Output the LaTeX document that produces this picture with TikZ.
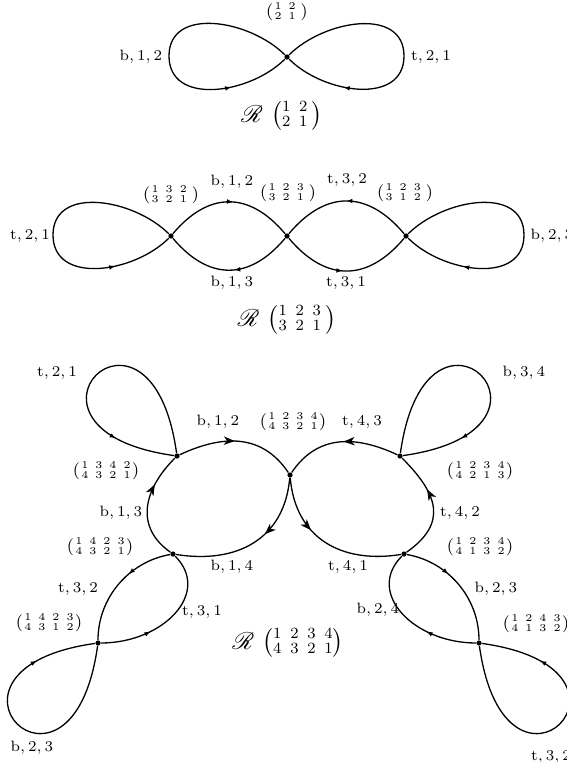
\RequirePackage{fix-cm}
\documentclass[tikz,border=0pt]{standalone}
\usepackage{amsmath}
\usepackage{mathrsfs}
\usetikzlibrary{decorations.markings,arrows.meta}

\newcommand{\vmat}[1]{$(\kern0.7pt\vcenter{\hbox{\fontsize{5.2}{5}\selectfont\setlength{\tabcolsep}{1.75pt}\begin{tabular}{@{}*{4}{c}@{}}#1\end{tabular}}}\kern0.7pt)$}
\newcommand{\bmat}[1]{$\mathscr{R}\,\left(\vcenter{\hbox{\fontsize{7.8}{6.7}\selectfont\setlength{\tabcolsep}{2.2pt}\begin{tabular}{@{}*{4}{c}@{}}#1\end{tabular}}}\right)$}

\tikzset{
  vtx/.style={circle, fill=black, inner sep=0pt, minimum size=2.6pt},
  lb/.style={inner sep=0pt, font=\fontsize{7.5}{9}\selectfont},
  vm/.style={inner sep=0pt, font=\fontsize{8.5}{10}\selectfont},
  rl/.style={inner sep=0pt, font=\fontsize{12}{14}\selectfont},
  crv/.style={line width=0.65pt},
  sa/.style={postaction={decorate}, decoration={markings, mark=at position #1 with {\arrow{Latex[length=3pt,width=2.4pt]}}}},
  ba/.style={postaction={decorate}, decoration={markings, mark=at position #1 with {\arrow{Stealth[length=5.5pt,width=4.2pt,inset=1.6pt]}}}},
}

\begin{document}
\begin{tikzpicture}[x=0.5pt,y=0.5pt]
\useasboundingbox (0,0) rectangle (567,-762);

% ---------- figure 1
\node[vtx] (a) at (287,-57) {};
\coordinate (af1) at (169,-56);
\coordinate (af2) at (404,-56);
\draw[crv,sa=0.785] (a) to[out=135,in=90,looseness=1.1] (af1) to[out=-90,in=-135,looseness=1.1] (a);
\draw[crv,sa=0.78] (a) to[out=45,in=90,looseness=1.1] (af2) to[out=-90,in=-45,looseness=1.1] (a);
\node[vm] (la) at (287,-12) {\vmat{1&2\\2&1}};
\node[lb] (la1) at (141,-57) {$\mathrm{b},1,2$};
\node[lb] (la2) at (431,-57) {$\mathrm{t},2,1$};
\node[rl] (ra) at (282,-116) {\bmat{1&2\\2&1}};

% ---------- figure 2
\node[vtx] (p1) at (171,-236) {};
\node[vtx] (p2) at (287,-236) {};
\node[vtx] (p3) at (406,-236) {};
\coordinate (pf1) at (53,-235);
\coordinate (pf2) at (524,-235);
\draw[crv,sa=0.785] (p1) to[out=135,in=90,looseness=1.1] (pf1) to[out=-90,in=-135,looseness=1.1] (p1);
\draw[crv,sa=0.53] (p1) to[out=50,in=130,looseness=1.27] (p2);
\draw[crv,sa=0.46] (p2) to[out=-130,in=-50,looseness=1.27] (p1);
\draw[crv,sa=0.5] (p3) to[out=130,in=50,looseness=1.27] (p2);
\draw[crv,sa=0.47] (p2) to[out=-50,in=-130,looseness=1.27] (p3);
\draw[crv,sa=0.78] (p3) to[out=45,in=90,looseness=1.1] (pf2) to[out=-90,in=-45,looseness=1.1] (p3);
\node[lb] (lp1) at (30,-236) {$\mathrm{t},2,1$};
\node[vm] (lp2) at (171,-195) {\vmat{1&3&2\\3&2&1}};
\node[lb] (lp3) at (232,-182) {$\mathrm{b},1,2$};
\node[vm] (lp4) at (288,-193) {\vmat{1&2&3\\3&2&1}};
\node[lb] (lp5) at (347,-180) {$\mathrm{t},3,2$};
\node[vm] (lp6) at (405,-193) {\vmat{1&2&3\\3&1&2}};
\node[lb] (lp7) at (552,-236) {$\mathrm{b},2,3$};
\node[lb] (lp8) at (232,-283) {$\mathrm{b},1,3$};
\node[lb] (lp9) at (346,-283) {$\mathrm{t},3,1$};
\node[rl] (rp) at (287,-320) {\bmat{1&2&3\\3&2&1}};

% ---------- figure 3
\node[vtx] (C) at (290,-475) {};
\node[vtx] (UL) at (177,-456) {};
\node[vtx] (LL) at (173,-554) {};
\node[vtx] (UR) at (400,-456) {};
\node[vtx] (LR) at (404,-554) {};
\node[vtx] (ML) at (98,-643) {};
\node[vtx] (MR) at (479,-643) {};

% big left loop
\draw[crv,ba=0.4] (C) to[out=-95,in=-9,looseness=1.15] (LL);
\draw[crv,ba=0.7] (LL) to[out=145,in=225,looseness=1.2] (UL);
\draw[crv,ba=0.47] (UL) to[out=25,in=124,looseness=1.1] (C);
% big right loop
\draw[crv,ba=0.37] (C) to[out=-85,in=189,looseness=1.15] (LR);
\draw[crv,ba=0.65] (LR) to[out=35,in=-45,looseness=1.38] (UR);
\draw[crv,ba=0.47] (UR) to[out=155,in=56,looseness=1.1] (C);
% small loops
\draw[crv,sa=0.78] (UL) .. controls +(98:190) and +(172:190) .. (UL);
\draw[crv,sa=0.78] (UR) .. controls +(82:190) and +(8:190) .. (UR);
% lower left lens and loop
\draw[crv,sa=0.38] (LL) .. controls +(190:45) and +(90:45) .. (ML);
\draw[crv,sa=0.35] (ML) .. controls +(0:65) and +(-45:55) .. (LL);
\draw[crv,sa=0.78] (ML) .. controls +(262:190) and +(188:190) .. (ML);
% lower right lens and loop
\draw[crv,sa=0.38] (LR) .. controls +(-10:45) and +(90:45) .. (MR);
\draw[crv,sa=0.35] (MR) .. controls +(180:65) and +(-135:55) .. (LR);
\draw[crv,sa=0.78] (MR) .. controls +(278:190) and +(352:190) .. (MR);

\node[lb] (q1) at (57,-373) {$\mathrm{t},2,1$};
\node[lb] (q2) at (218,-422) {$\mathrm{b},1,2$};
\node[vm] (q3) at (293,-422) {\vmat{1&2&3&4\\4&3&2&1}};
\node[lb] (q4) at (362,-422) {$\mathrm{t},4,3$};
\node[lb] (q5) at (524,-373) {$\mathrm{b},3,4$};
\node[vm] (q6) at (106,-471) {\vmat{1&3&4&2\\4&3&2&1}};
\node[vm] (q7) at (480,-471) {\vmat{1&2&3&4\\4&2&1&3}};
\node[lb] (q8) at (121,-513) {$\mathrm{b},1,3$};
\node[lb] (q9) at (460,-513) {$\mathrm{t},4,2$};
\node[vm] (q10) at (100,-547) {\vmat{1&4&2&3\\4&3&2&1}};
\node[vm] (q11) at (480,-547) {\vmat{1&2&3&4\\4&1&3&2}};
\node[lb] (q12) at (232,-567) {$\mathrm{b},1,4$};
\node[lb] (q13) at (348,-567) {$\mathrm{t},4,1$};
\node[lb] (q14) at (78,-589) {$\mathrm{t},3,2$};
\node[lb] (q15) at (496,-589) {$\mathrm{b},2,3$};
\node[lb] (q16) at (378,-610) {$\mathrm{b},2,4$};
\node[lb] (q17) at (202,-612) {$\mathrm{t},3,1$};
\node[vm] (q18) at (49,-623) {\vmat{1&4&2&3\\4&3&1&2}};
\node[vm] (q19) at (536,-624) {\vmat{1&2&4&3\\4&1&3&2}};
\node[rl] (rq) at (288,-643) {\bmat{1&2&3&4\\4&3&2&1}};
\node[lb] (q20) at (32,-748) {$\mathrm{b},2,3$};
\node[lb] (q21) at (551,-757) {$\mathrm{t},3,2$};
\end{tikzpicture}
\end{document}
